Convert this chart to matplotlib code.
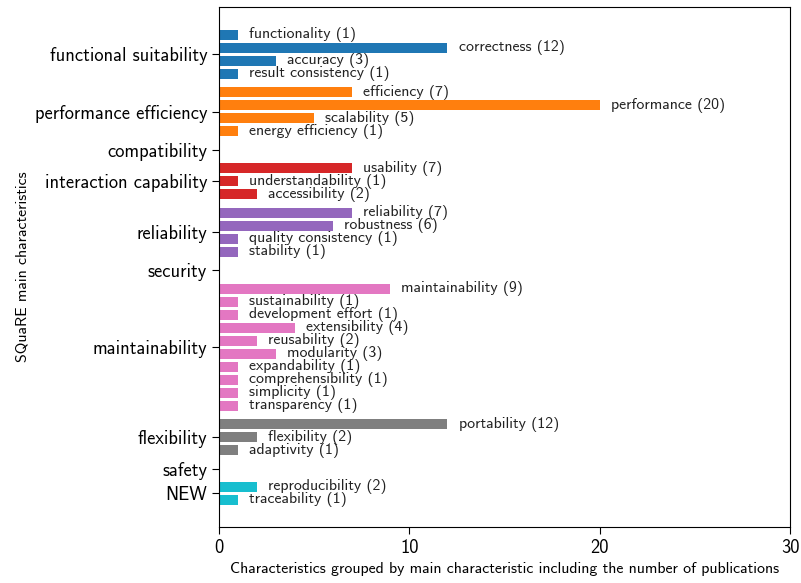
import matplotlib
matplotlib.use("Agg")
import matplotlib.pyplot as plt
import numpy as np

plt.rcParams['font.family'] = ['cmss10', 'DejaVu Sans']
plt.rcParams['axes.unicode_minus'] = False

# main characteristics (y ticks) and their sub characteristics
groups = ["functional suitability", "performance efficiency", "compatibility",
          "interaction capability", "reliability", "security", "maintainability",
          "flexibility", "safety", "NEW"]

sub_names = [
    ["functionality", "correctness", "accuracy", "result consistency"],
    ["efficiency", "performance", "scalability", "energy efficiency"],
    [],
    ["usability", "understandability", "accessibility"],
    ["reliability", "robustness", "quality consistency", "stability"],
    [],
    ["maintainability", "sustainability", "development effort", "extensibility",
     "reusability", "modularity", "expandability", "comprehensibility",
     "simplicity", "transparency"],
    ["portability", "flexibility", "adaptivity"],
    [],
    ["reproducibility", "traceability"],
]

sub_counts = [
    [1, 12, 3, 1],
    [7, 20, 5, 1],
    [],
    [7, 1, 2],
    [7, 6, 1, 1],
    [],
    [9, 1, 1, 4, 2, 3, 1, 1, 1, 1],
    [12, 2, 1],
    [],
    [2, 1],
]

colors = plt.get_cmap("tab10").colors
gap = 0.42
bar_h = 0.78

fig = plt.figure(figsize=(8.01, 5.83), dpi=100)
ax = fig.add_axes([0.2734, 0.096, 0.713, 0.892])

pos = 0.0
tick_pos = []
for i, (names, counts) in enumerate(zip(sub_names, sub_counts)):
    if len(counts) == 0:
        tick_pos.append(pos)
        pos += 1 + gap
        continue
    ys = pos + np.arange(len(counts))
    ax.barh(ys, counts, height=bar_h, color=colors[i % 10])
    for y, n, c in zip(ys, names, counts):
        ax.annotate(f"{n} ({c})", (c, y), xytext=(8, 0), textcoords="offset points",
                    va="center", ha="left", fontsize=11.4, color="#222222")
    tick_pos.append(ys.mean())
    pos = ys[-1] + 1 + gap

last = pos - 1 - gap
ax.set_ylim(last + 2.08, -2.15)
ax.set_xlim(0, 30)
ax.set_xticks([0, 10, 20, 30])
ax.set_yticks(tick_pos)
ax.set_yticklabels(groups)
ax.tick_params(axis="both", labelsize=13.3, length=5)
ax.set_xlabel("Characteristics grouped by main characteristic including the number of publications",
              fontsize=11.4)
ax.set_ylabel("SQuaRE main characteristics", fontsize=11.4)

fig.savefig("out.png", dpi=100)
